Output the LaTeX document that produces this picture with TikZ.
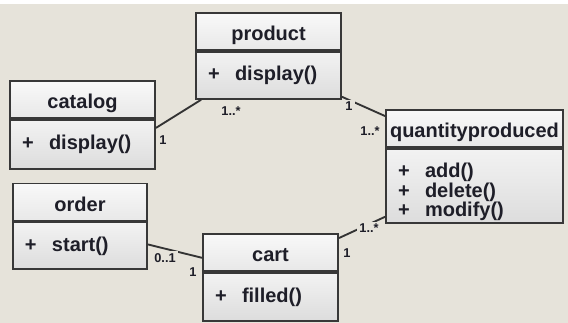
\documentclass[tikz,border=0pt]{standalone}
\usepackage{fontspec}
\setmainfont{Liberation Sans}
\usepackage{tikz}
\usetikzlibrary{positioning}
\usepackage{xcolor}

\definecolor{paper}{HTML}{E6E3DA}
\definecolor{ink}{HTML}{1E1E28}
\newcommand{\upx}{0.75pt}
\newcommand{\op}[1]{\makebox[20.25pt][l]{+}#1}

\tikzset{
  classhead/.style={draw=black!78, line width=1.4pt, top color=gray!5, bottom color=gray!18,
    text=ink, font=\bfseries\fontsize{15}{14.6}\selectfont, inner sep=0pt,
    text height=14.25pt, text depth=0pt,
    minimum width=#1*\upx, minimum height=37*\upx},
  classbody/.style 2 args={draw=black!78, line width=1.4pt, top color=gray!10, bottom color=gray!27,
    text=ink, font=\bfseries\fontsize{15}{14.6}\selectfont, inner xsep=9pt, inner ysep=0pt,
    align=left, text width=(#1-24)*\upx, minimum height=#2*\upx},
  mult/.style={fill=paper, text=ink, font=\bfseries\fontsize{9.6}{10}\selectfont, inner sep=1.5pt},
  assoc/.style={draw=black!80, line width=1.4pt}
}

\begin{document}
\begin{tikzpicture}[x=0.75pt, y=-0.75pt]
    \fill[paper] (0,0) rectangle (568,323);
    \fill[white] (0,0) rectangle (568,4);
    \useasboundingbox (0,0) rectangle (568,323);

    \node[classhead=145] (catalog) at (82.5,99.5) {catalog};
    \node[classbody={145}{49}, below=0pt of catalog] (catalogops) {\op{display()}};

    \node[classhead=145] (product) at (268.5,31.5) {product};
    \node[classbody={145}{47}, below=0pt of product] (productops) {\op{display()}};

    \node[classhead=177] (quantity) at (474.5,128.5) {quantityproduced};
    \node[classbody={177}{74}, text height=20.25pt, below=0pt of quantity] (quantityops)
        {\op{add()}\\\op{delete()}\\\op{modify()}};

    \node[classhead=134] (order) at (80,202) {order};
    \node[classbody={134}{47}, below=0pt of order] (orderops) {\op{start()}};

    \node[classhead=135] (cart) at (270.5,252.5) {cart};
    \node[classbody={135}{48}, below=0pt of cart] (cartops) {\op{filled()}};

    \draw[assoc] ([yshift=-6.75pt]catalogops.north east) -- ([xshift=4.5pt]productops.south west);
    \draw[assoc] ([yshift=2.25pt]productops.south east) -- ([yshift=-5.25pt]quantity.north west);
    \draw[assoc] ([yshift=5.25pt]quantityops.south west) -- ([yshift=-3.75pt]cart.north east);
    \draw[assoc] ([yshift=-17.25pt]orderops.north east) -- ([yshift=-4pt]cart.west);

    \node[mult] (catalogend) at (163,140) {1};
    \node[mult] (productend1) at (231,111) {1..*};
    \node[mult] (productend2) at (349,106) {1};
    \node[mult] (quantityend1) at (370,131) {1..*};
    \node[mult] (quantityend2) at (369,228) {1..*};
    \node[mult] (cartend1) at (347,253) {1};
    \node[mult] (orderend) at (165,258) {0..1};
    \node[mult] (cartend2) at (193,272) {1};
\end{tikzpicture}
\end{document}
